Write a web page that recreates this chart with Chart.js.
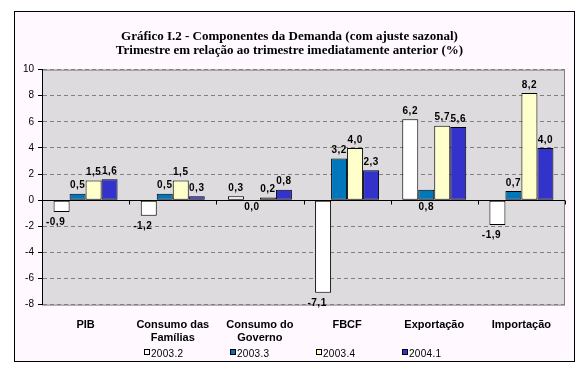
<!DOCTYPE html>
<html>
<head>
<meta charset="utf-8">
<script src="https://cdn.jsdelivr.net/npm/chart.js@4.4.0/dist/chart.umd.min.js"></script>
<style>
  html, body { margin: 0; padding: 0; background: #ffffff; }
  canvas { display: block; }
</style>
</head>
<body>
<canvas id="demandaChart" width="587" height="373"></canvas>
<script>
var categories = [['PIB'], ['Consumo das', 'Famílias'], ['Consumo do', 'Governo'], ['FBCF'], ['Exportação'], ['Importação']];
var seriesNames = ['2003.2', '2003.3', '2003.4', '2004.1'];
var q2003_2 = [-0.9, -1.2, 0.3, -7.1, 6.2, -1.9];
var q2003_3 = [0.5, 0.5, 0.0, 3.2, 0.8, 0.7];
var q2003_4 = [1.5, 1.5, 0.2, 4.0, 5.7, 8.2];
var q2004_1 = [1.6, 0.3, 0.8, 2.3, 5.6, 4.0];
var yTicks = [-8, -6, -4, -2, 0, 2, 4, 6, 8, 10];
var seriesColors = ['#ffffff', '#0077bb', '#ffffcc', '#3333cc'];
// in the original this label sits under the axis (category index, series index)
var labelsUnderAxis = [[4, 1]];

var sans = '"Liberation Sans", Arial, sans-serif';

function fmt(v) {
    return v.toFixed(1).replace('.', ',');
}

// page frame, plot background and border
var frame = {
    id: 'frame',
    beforeDraw: function (chart) {
        var ctx = chart.ctx, a = chart.chartArea;
        ctx.save();
        ctx.fillStyle = '#ffffff';
        ctx.fillRect(0, 0, chart.width, chart.height);
        ctx.fillStyle = '#fff8ff';
        ctx.fillRect(14, 11, 560, 350);
        ctx.strokeStyle = '#000000';
        ctx.lineWidth = 1;
        ctx.strokeRect(14.5, 11.5, 560, 350);
        ctx.fillStyle = '#dddbdd';
        ctx.fillRect(a.left, a.top, a.right - a.left, a.bottom - a.top);
        ctx.strokeStyle = '#808080';
        ctx.strokeRect(a.left + 0.5, a.top + 0.5, a.right - a.left - 1, a.bottom - a.top);
        ctx.restore();
    },
    afterDatasetsDraw: function (chart) {
        // category tick marks on the zero line
        var ctx = chart.ctx, x = chart.scales.x;
        var zero = Math.round(chart.scales.y.getPixelForValue(0)) + 0.5;
        var half = (x.getPixelForValue(1) - x.getPixelForValue(0)) / 2;
        ctx.save();
        ctx.strokeStyle = '#000000';
        ctx.lineWidth = 1;
        ctx.beginPath();
        ctx.moveTo(chart.chartArea.left, zero);
        ctx.lineTo(chart.chartArea.right, zero);
        for (var i = 1; i <= categories.length; i++) {
            var px = Math.round(x.getPixelForValue(i) - half) + 0.5;
            ctx.moveTo(px, zero);
            ctx.lineTo(px, zero + 4);
        }
        ctx.stroke();
        ctx.restore();
    }
};

var barLabels = {
    id: 'barLabels',
    afterDatasetsDraw: function (chart) {
        var ctx = chart.ctx;
        var zero = chart.scales.y.getPixelForValue(0);
        ctx.save();
        ctx.font = 'bold 10px ' + sans;
        ctx.letterSpacing = '0.5px';
        ctx.fillStyle = '#000000';
        ctx.textAlign = 'center';
        chart.data.datasets.forEach(function (ds, di) {
            chart.getDatasetMeta(di).data.forEach(function (bar, i) {
                var v = ds.data[i];
                var moved = labelsUnderAxis.some(function (p) { return p[0] === i && p[1] === di; });
                if (v > 0 && !moved) {
                    ctx.textBaseline = 'bottom';
                    ctx.fillText(fmt(v), bar.x, bar.y - 3);
                } else if (v < 0) {
                    ctx.textBaseline = 'top';
                    ctx.fillText(fmt(v), bar.x - 6, bar.y + 5);
                } else {
                    ctx.textBaseline = 'top';
                    ctx.fillText(fmt(v), bar.x, zero + 2);
                }
            });
        });
        ctx.restore();
    }
};

var bottomLegend = {
    id: 'bottomLegend',
    afterDraw: function (chart) {
        var ctx = chart.ctx;
        var x0 = chart.chartArea.left + 102, y = 353;
        ctx.save();
        ctx.font = '10px ' + sans;
        ctx.letterSpacing = '0.3px';
        ctx.textBaseline = 'middle';
        ctx.textAlign = 'left';
        chart.data.datasets.forEach(function (ds, i) {
            var x = x0 + i * 86;
            ctx.fillStyle = ds.backgroundColor;
            ctx.fillRect(x, y - 4, 5, 5);
            ctx.strokeStyle = '#000000';
            ctx.lineWidth = 1;
            ctx.strokeRect(x + 0.5, y - 3.5, 5, 5);
            ctx.fillStyle = '#000000';
            ctx.fillText(ds.label, x + 7, y + 1);
        });
        ctx.restore();
    }
};

var series = [q2003_2, q2003_3, q2003_4, q2004_1];

new Chart(document.getElementById('demandaChart').getContext('2d'), {
    type: 'bar',
    data: {
        labels: categories,
        datasets: series.map(function (values, i) {
            return {
                label: seriesNames[i],
                data: values,
                backgroundColor: seriesColors[i],
                borderColor: '#000000',
                borderWidth: 1,
                borderSkipped: false
            };
        })
    },
    options: {
        responsive: false,
        animation: false,
        events: [],
        categoryPercentage: 0.734,
        barPercentage: 1.0,
        layout: {
            padding: { left: 14, right: 22, top: 0, bottom: 14 }
        },
        scales: {
            x: {
                grid: { display: false, drawTicks: false },
                border: { display: false },
                ticks: {
                    color: '#000000',
                    padding: 14,
                    maxRotation: 0,
                    autoSkip: false,
                    font: { family: sans, size: 11, weight: 'bold', lineHeight: 1.2 }
                }
            },
            y: {
                min: -8,
                max: 10,
                afterBuildTicks: function (axis) {
                    axis.ticks = yTicks.map(function (v) { return { value: v }; });
                },
                afterFit: function (axis) {
                    axis.width = 28;
                },
                grid: {
                    color: function (c) { return c.tick && c.tick.value === 0 ? '#000000' : '#808080'; },
                    tickColor: '#000000',
                    tickLength: 4
                },
                border: {
                    display: true,
                    color: '#000000',
                    dash: [4, 3]
                },
                ticks: {
                    color: '#000000',
                    padding: 4,
                    font: { family: sans, size: 10 }
                }
            }
        },
        plugins: {
            legend: { display: false },
            tooltip: { enabled: false },
            title: {
                display: true,
                text: ['Gráfico I.2 - Componentes da Demanda (com ajuste sazonal)',
                       'Trimestre em relação ao trimestre imediatamente anterior (%)'],
                color: '#000000',
                font: { family: '"Liberation Serif", "Times New Roman", serif', size: 13, weight: 'bold', lineHeight: 1.1 },
                padding: { top: 29, bottom: 12 }
            }
        }
    },
    plugins: [frame, barLabels, bottomLegend]
});
</script>
</body>
</html>
